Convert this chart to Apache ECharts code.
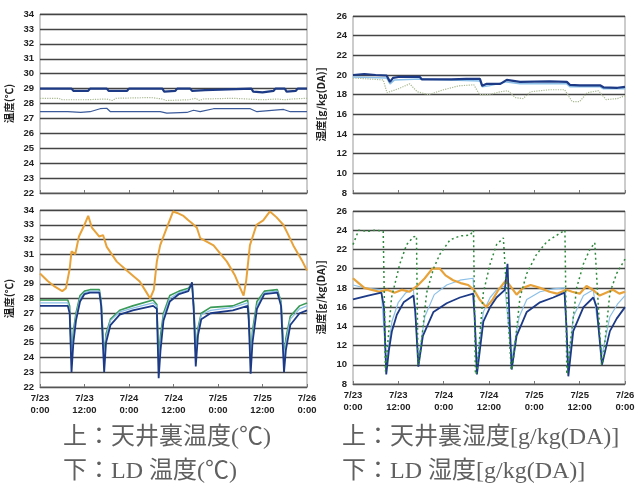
<!DOCTYPE html>
<html><head><meta charset="utf-8">
<script src="https://cdn.jsdelivr.net/npm/echarts@6/dist/echarts.min.js"></script>
<style>html,body{margin:0;padding:0;background:#fff}#c{width:639px;height:491px}</style>
</head><body><div id="c"></div>
<script>
// ---- tick labels ----
const timeLabels = ['7/23\n0:00','7/23\n12:00','7/24\n0:00','7/24\n12:00','7/25\n0:00','7/25\n12:00','7/26\n0:00'];
const captions = ['上：天井裏温度(℃)','上：天井裏湿度[g/kg(DA)]','下：LD 温度(℃)','下：LD 湿度[g/kg(DA)]'];

// ---- top-left: attic temperature [hour, °C] ----
const atticTempHigh = [[0,29.0],[8.5,29.0],[9,28.85],[13,28.85],[13.5,29.0],[18,29.0],[18.5,28.85],[23.5,28.85],[24,29.0],[33,29.0],[33.5,28.8],[36.5,28.85],[37,29.0],[40.5,29.0],[41,28.85],[44.5,28.9],[45,29.0],[57,29.0],[57.5,28.8],[60,28.75],[63,28.85],[63.5,29.0],[66,29.0],[66.5,28.8],[69,28.85],[69.5,29.0],[72,29.0]];
const atticTempMid = [[0,28.35],[5,28.35],[6,28.25],[12,28.25],[18,28.3],[19.5,28.2],[20.5,28.35],[30,28.4],[33,28.3],[34,28.2],[40,28.25],[42,28.35],[43,28.2],[44,28.3],[52,28.35],[56,28.3],[60,28.25],[64,28.3],[66,28.25],[68,28.3],[72,28.35]];
const atticTempLow = [[0,27.45],[7.5,27.45],[11,27.4],[13.5,27.45],[16.2,27.65],[18,27.68],[19,27.45],[23.5,27.45],[32.4,27.45],[34.2,27.35],[39.6,27.4],[41.4,27.55],[43.2,27.45],[46.8,27.65],[56.7,27.65],[58.5,27.45],[65.7,27.6],[67.5,27.45],[72,27.45]];

// ---- top-right: attic humidity [hour, g/kg(DA)] ----
const atticHumHigh = [[0,20.0],[3,20.1],[6,20.0],[8.9,19.95],[9.8,19.3],[10.6,19.7],[12,19.8],[17.7,19.8],[18.2,19.55],[26,19.55],[30,19.6],[33.6,19.6],[34.2,18.9],[35.4,19.1],[39,19.1],[40.7,19.5],[44.2,19.3],[52,19.35],[56.6,19.3],[57.4,19.0],[60,18.95],[65.4,18.95],[66.3,18.75],[70,18.7],[72,18.8]];
const atticHumLight = [[0,19.8],[8.9,19.7],[9.8,19.1],[11,19.5],[17.7,19.6],[18.2,19.4],[33.6,19.4],[34.2,18.8],[36,18.9],[40.7,19.3],[44.2,19.1],[56.6,19.1],[57.4,18.8],[65.4,18.8],[66.3,18.6],[72,18.6]];
const atticHumDot = [[0,19.7],[4,19.6],[8,19.5],[9,18.2],[12,18.6],[15,19.1],[17,18.3],[20,18.0],[24,18.5],[28,18.9],[32,19.0],[33.5,18.0],[36,18.0],[39,18.3],[41,18.4],[43,17.7],[45,17.6],[47,18.3],[52,18.5],[56,18.5],[58,17.3],[60,17.3],[62,18.2],[65,18.4],[67,17.5],[70,17.6],[72,17.9]];

// ---- bottom-left: LD temperature [hour, °C] ----
const ldTempOrange = [[0,29.7],[2,29.2],[4,28.8],[6,28.5],[7,28.7],[8,30.0],[8.5,31.2],[9.5,31.0],[10.5,32.2],[12,33.0],[13,33.6],[14,32.8],[15,32.5],[16,32.2],[17,32.3],[18,31.5],[20.7,30.5],[23.4,29.9],[26.9,29.15],[28.5,28.5],[29.7,28.0],[30.7,28.6],[31.5,30.5],[32.4,31.6],[34.2,32.8],[35.9,33.9],[37,33.8],[38.7,33.6],[40,33.3],[41,33.1],[42.3,32.8],[43.2,32.1],[46.8,31.6],[50.4,30.5],[52.5,29.6],[54,28.7],[54.9,28.2],[55.6,29.2],[56.6,31.6],[58.4,33.0],[60.2,33.3],[62,33.9],[63.8,33.5],[65.6,33.0],[66.8,32.4],[68.3,31.6],[70.6,30.6],[72,29.9]];
const ldTempBlue = [[0,27.5],[7.5,27.5],[8,27.0],[8.5,23.0],[9,25.0],[9.7,26.5],[10.8,27.8],[12,28.3],[13.5,28.4],[16,28.4],[16.5,27.5],[17.3,23.0],[17.8,25.0],[19,26.2],[21.5,26.9],[25,27.2],[30.5,27.5],[31.5,27.3],[32,22.6],[32.5,24.5],[33.3,26.5],[35,27.8],[37.5,28.3],[40,28.5],[41,29.1],[41.5,27.0],[42,23.4],[42.6,25.5],[43.5,26.6],[46,27.0],[52,27.2],[56,27.5],[56.3,26.5],[56.8,22.9],[57.3,25.0],[58.5,27.3],[60.5,28.3],[64,28.4],[65,27.5],[65.8,23.0],[66.3,24.5],[67.5,26.2],[70,27.0],[72,27.2]];
const ldTempLight = [[0,27.7],[7.5,27.7],[8,27.2],[8.5,23.8],[9,25.5],[9.7,26.8],[10.8,28.0],[12,28.4],[13.5,28.5],[16,28.5],[16.5,27.7],[17.3,23.8],[17.8,25.4],[19,26.5],[21.5,27.1],[25,27.35],[30.5,27.7],[31.5,27.5],[32,23.6],[32.5,25.0],[33.3,26.8],[35,28.0],[37.5,28.4],[40,28.6],[41,29.0],[41.5,27.2],[42,24.2],[42.6,25.8],[43.5,26.9],[46,27.2],[52,27.4],[56,27.7],[56.3,26.8],[56.8,23.8],[57.3,25.5],[58.5,27.5],[60.5,28.4],[64,28.5],[65,27.7],[65.8,24.0],[66.3,25.0],[67.5,26.6],[70,27.3],[72,27.5]];
const ldTempGreen = [[0,27.9],[7.5,27.9],[8,27.5],[8.5,24.0],[9,25.8],[9.7,27.0],[10.8,28.2],[12,28.5],[13.5,28.6],[16,28.6],[16.5,27.8],[17.3,24.0],[17.8,25.6],[19,26.6],[21.5,27.2],[25,27.5],[30.5,27.9],[31.5,27.6],[32,24.0],[32.5,25.5],[33.3,27.0],[35,28.2],[37.5,28.5],[40,28.7],[41,29.0],[41.5,27.4],[42,24.4],[42.6,26.0],[43.5,27.0],[46,27.4],[52,27.5],[56,27.9],[56.3,27.0],[56.8,24.0],[57.3,25.8],[58.5,27.8],[60.5,28.5],[64,28.6],[65,27.8],[65.8,24.0],[66.3,25.3],[67.5,26.8],[70,27.5],[72,27.7]];

// ---- bottom-right: LD humidity [hour, g/kg(DA)] ----
const ldHumGreen = [[0,22.5],[1.5,24.0],[4,23.9],[6,24.0],[8,23.9],[8.6,9.3],[9,9.5],[10.2,17.0],[12.4,20.5],[14.2,22.5],[16,23.3],[16.8,23.4],[17.2,10.0],[17.6,10.5],[19.5,17.5],[21.3,20.0],[23,21.5],[25.7,23.0],[28.3,23.4],[31,23.5],[31.9,24.0],[32.4,9.0],[32.8,9.3],[34.5,17.5],[36.3,20.5],[38,22.5],[39.8,23.2],[40.2,23.0],[41.9,9.5],[42.3,10.0],[44.2,17.0],[46,19.5],[48.6,21.5],[51.3,22.8],[54.8,23.7],[56.1,24.0],[56.6,9.0],[57,9.2],[59.2,18.0],[61,20.5],[62.7,22.0],[64,22.7],[64.4,22.5],[65.8,10.0],[66.2,10.5],[68,17.5],[69.8,19.5],[72,21.0]];
const ldHumBlue = [[0,16.8],[4,17.2],[7.5,17.5],[8.2,16.0],[8.8,9.0],[9.5,11.5],[10.3,13.5],[11.6,15.2],[13.4,16.5],[16,17.2],[16.5,15.5],[17.3,9.8],[18.5,13.0],[21.3,15.5],[24.8,16.4],[28.3,17.0],[31.8,17.4],[32.2,15.0],[32.8,9.0],[34.5,14.5],[36.3,16.0],[38,17.0],[40.2,17.8],[40.9,20.5],[41.4,15.0],[42,9.5],[43.3,13.0],[46,15.5],[49.5,16.5],[53,17.0],[56,17.5],[56.5,14.0],[57,8.8],[58.3,13.5],[61,16.0],[63.6,17.0],[64.5,16.0],[65.9,10.0],[68,13.5],[69.8,14.8],[72,16.0]];
const ldHumLight = [[0,18.3],[3,18.0],[7.5,17.8],[8.8,10.0],[10.3,14.5],[12,16.5],[14,17.5],[16,17.8],[17.3,10.5],[19,15.0],[21.5,17.3],[24.8,18.3],[28.3,18.8],[31.8,19.0],[32.8,10.0],[34.5,15.5],[36.3,17.0],[38,17.8],[40.2,18.2],[42,10.5],[44,15.0],[46,16.8],[49.5,17.6],[53,17.9],[56,18.0],[57,9.5],[58.3,15.0],[61,17.2],[63.6,17.8],[65.9,11.0],[68,15.0],[70,16.3],[72,17.2]];
const ldHumOrange = [[0,19.0],[1.5,18.5],[3,18.0],[5,17.8],[7,17.6],[9,17.8],[11,17.5],[13,17.8],[15,17.6],[17,18.2],[19,19.0],[21,20.0],[23,20.0],[24.5,19.3],[26.5,18.8],[28.5,18.5],[30.5,18.3],[32,17.8],[33.5,16.8],[35.3,16.0],[37,16.8],[38.5,17.8],[40.5,18.8],[42,18.0],[43.3,17.3],[45,18.0],[47,18.3],[49.5,18.0],[52,17.6],[54,17.4],[56.5,17.8],[58,17.6],[60,17.4],[61.8,18.2],[63.5,17.8],[65.3,17.2],[67,17.5],[68.8,17.8],[70.5,17.4],[72,17.6]];

const NAVY = '#1c3a86', GREEN = '#3a9a58', LBLUE = '#8cc0e8', ORANGE = '#e8a23a', DGREEN = '#2e8a3c', GDOT = '#a8b890';

const grids = [
  {left:40, top:14, width:267, height:179},
  {left:353, top:16, width:272, height:177},
  {left:40, top:210, width:267, height:177},
  {left:353, top:211, width:272, height:173}
].map(g => Object.assign(g, {show:true, borderColor:'#999', borderWidth:1, backgroundColor:'#fff'}));

function xAxis(i, showLabel) {
  return {
    type:'value', gridIndex:i, min:0, max:72, interval:12,
    axisLine:{show:true, lineStyle:{color:'#555', width:1}},
    axisTick:{show:true, inside:true, length:3, lineStyle:{color:'#777'}},
    splitLine:{show:false},
    axisLabel:{show:showLabel, fontSize:9.5, fontWeight:'bold', color:'#222', lineHeight:12, margin:5,
      fontFamily:'Liberation Sans, Arial, sans-serif',
      formatter: v => timeLabels[Math.round(v/12)]}
  };
}
function yAxis(i, min, max, interval, name, gap) {
  return {
    type:'value', gridIndex:i, min, max, interval,
    name, nameLocation:'middle', nameGap:gap, nameRotate:90,
    nameTextStyle:{fontSize:10.5, fontWeight:'bold', color:'#222', fontFamily:'Noto Sans CJK JP'},
    axisLine:{show:false}, axisTick:{show:false},
    splitLine:{show:true, lineStyle:{color:'#444', width:1.3}},
    axisLabel:{fontSize:9.5, fontWeight:'bold', color:'#222', margin:6, fontFamily:'Liberation Sans, Arial, sans-serif'}
  };
}
function line(i, data, color, width, type, z) {
  return {type:'line', xAxisIndex:i, yAxisIndex:i, data, symbol:'none', silent:true, z:z||2,
    lineStyle:{color, width, type:type||'solid'}};
}

const chart = echarts.init(document.getElementById('c'), null, {renderer:'canvas'});
const capFont = "'Liberation Serif','Noto Sans CJK JP'";
chart.setOption({
  backgroundColor:'#fff',
  animation:false,
  grid: grids,
  xAxis:[xAxis(0,false), xAxis(1,false), xAxis(2,true), xAxis(3,true)],
  yAxis:[
    yAxis(0,22,34,1,'温度(℃)',26),
    yAxis(1,8,26,2,'湿度[g/kg(DA)]',27),
    yAxis(2,22,34,1,'温度(℃)',26),
    yAxis(3,8,26,2,'湿度[g/kg(DA)]',27)
  ],
  series:[
    line(0, atticTempMid, GDOT, 1.2, 'dotted'),
    line(0, atticTempLow, '#3a5a9a', 1.2),
    line(0, atticTempHigh, NAVY, 2.2),
    line(1, atticHumDot, GDOT, 1.2, 'dotted'),
    line(1, atticHumLight, LBLUE, 1.5),
    line(1, atticHumHigh, NAVY, 2.2, 'solid', 3),
    line(2, ldTempOrange, ORANGE, 2),
    line(2, ldTempGreen, GREEN, 1.6),
    line(2, ldTempLight, LBLUE, 1.3),
    line(2, ldTempBlue, NAVY, 1.8, 'solid', 3),
    line(3, ldHumLight, LBLUE, 1.2),
    line(3, ldHumOrange, ORANGE, 2.2),
    line(3, ldHumBlue, NAVY, 1.8, 'solid', 3),
    line(3, ldHumGreen, DGREEN, 1.5, [2,3], 4)
  ],
  graphic:[
    {type:'text', left:63, top:426, style:{text:captions[0], fontSize:24, fill:'#606060', fontFamily:capFont}},
    {type:'text', left:342, top:426, style:{text:captions[1], fontSize:24, fill:'#606060', fontFamily:capFont}},
    {type:'text', left:63, top:460, style:{text:captions[2], fontSize:24, fill:'#606060', fontFamily:capFont}},
    {type:'text', left:342, top:460, style:{text:captions[3], fontSize:24, fill:'#606060', fontFamily:capFont}}
  ]
});
</script></body></html>
